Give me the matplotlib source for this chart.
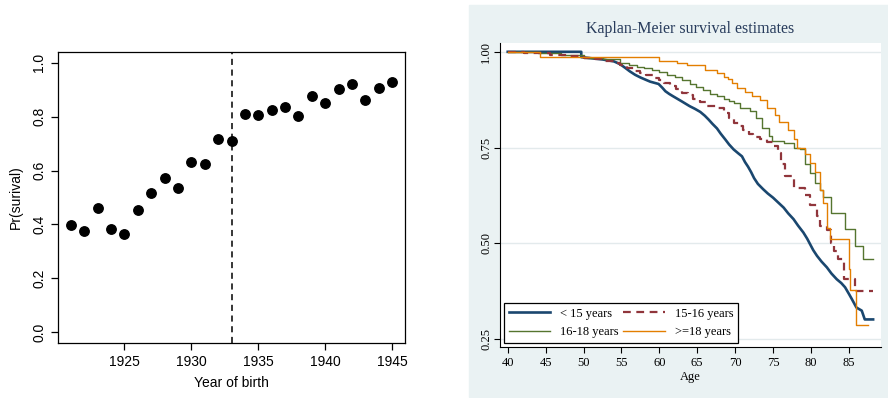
import numpy as np
import matplotlib
matplotlib.use("Agg")
import matplotlib.pyplot as plt
from matplotlib.patches import Rectangle

# datos panel izquierdo
years = [1921, 1922, 1923, 1924, 1925, 1926, 1927, 1928, 1929, 1930, 1931, 1932, 1933,
         1934, 1935, 1936, 1937, 1938, 1939, 1940, 1941, 1942, 1943, 1944, 1945]
pr_surv = [0.398, 0.374, 0.462, 0.383, 0.365, 0.455, 0.515, 0.573, 0.536, 0.633, 0.625,
           0.718, 0.708, 0.810, 0.805, 0.824, 0.835, 0.804, 0.877, 0.850, 0.904, 0.922,
           0.862, 0.908, 0.927]
cutoff = 1933

# curvas Kaplan-Meier (edad, supervivencia)
# < 15 anos: muchos escalones pequenos, se dibuja como linea continua
age_lt15 = [40, 49.7, 49.7, 52.5, 54.0, 54.8, 55.5, 56.1, 56.8, 57.5, 58.2, 58.8, 59.9, 60.4,
            60.8, 61.3, 61.8, 62.4, 63.0, 63.5, 64.0, 64.7, 65.4, 66.0, 66.5, 67.0, 67.6,
            68.1, 68.7, 69.2, 69.8, 70.4, 70.9, 71.3, 71.7, 72.1, 72.5, 73.0, 73.7, 74.3,
            75.0, 75.7, 76.4, 77.0, 77.7, 78.3, 79.0, 79.5, 79.9, 80.3, 80.8, 81.4, 82.1,
            82.7, 83.4, 84.0, 84.5, 85.0, 85.4, 85.7, 86.0, 86.7, 87.1, 88.2]
s_lt15 = [1.0, 1.0, 0.986, 0.980, 0.975, 0.968, 0.958, 0.949, 0.940, 0.933, 0.927, 0.922,
          0.916, 0.906, 0.897, 0.890, 0.884, 0.877, 0.870, 0.864, 0.858, 0.851, 0.843, 0.833,
          0.823, 0.812, 0.800, 0.786, 0.771, 0.758, 0.745, 0.735, 0.727, 0.712, 0.700, 0.686,
          0.670, 0.655, 0.641, 0.630, 0.619, 0.606, 0.593, 0.578, 0.563, 0.546, 0.528, 0.512,
          0.497, 0.482, 0.467, 0.452, 0.437, 0.421, 0.406, 0.396, 0.385, 0.368, 0.354, 0.343,
          0.332, 0.324, 0.301, 0.301]

age_1516 = [40, 42.1, 45.6, 48.0, 50.0, 51.5, 52.6, 54.0, 54.8, 55.7, 56.6, 57.4, 58.3, 59.1,
            59.9, 60.6, 61.4, 62.2, 63.0, 63.8, 64.5, 65.4, 66.3, 67.6, 68.5, 69.2, 69.8,
            70.6, 71.1, 71.8, 72.4, 73.3, 74.2, 75.0, 75.7, 76.1, 76.6, 77.7, 79.2, 79.9,
            80.8, 81.2, 82.1, 82.6, 83.1, 83.6, 84.3, 85.8, 88.2]
s_1516 = [1.0, 0.996, 0.991, 0.988, 0.985, 0.981, 0.976, 0.970, 0.965, 0.957, 0.950, 0.945,
          0.939, 0.932, 0.926, 0.918, 0.910, 0.902, 0.893, 0.886, 0.878, 0.868, 0.858, 0.852,
          0.839, 0.826, 0.813, 0.805, 0.795, 0.786, 0.778, 0.773, 0.765, 0.753, 0.736, 0.706,
          0.675, 0.645, 0.625, 0.600, 0.572, 0.545, 0.535, 0.500, 0.480, 0.458, 0.406, 0.374,
          0.374]

age_1618 = [40, 44.0, 47.0, 50.0, 52.6, 54.8, 56.0, 57.0, 58.0, 59.0, 60.0, 61.0, 62.0, 63.0,
            64.0, 64.9, 65.8, 66.7, 67.6, 68.5, 69.2, 69.8, 70.6, 72.0, 72.8, 73.5, 74.4,
            74.8, 76.4, 77.7, 78.6, 79.2, 79.9, 80.5, 81.2, 81.6, 82.7, 84.5, 85.8, 86.9, 88.2]
s_1618 = [1.0, 0.996, 0.991, 0.985, 0.980, 0.971, 0.965, 0.961, 0.957, 0.952, 0.946, 0.939,
          0.933, 0.926, 0.917, 0.907, 0.899, 0.891, 0.885, 0.878, 0.872, 0.865, 0.853, 0.845,
          0.827, 0.801, 0.779, 0.766, 0.762, 0.749, 0.745, 0.706, 0.684, 0.658, 0.640, 0.620,
          0.580, 0.536, 0.493, 0.458, 0.458]

age_ge18 = [40, 44.3, 60.0, 62.3, 63.6, 66.0, 67.6, 68.5, 69.0, 69.6, 70.2, 71.3, 72.2, 73.3,
            74.2, 75.3, 75.8, 77.0, 77.7, 78.2, 79.2, 79.9, 80.5, 81.2, 81.6, 82.1, 82.5,
            85.0, 85.2, 86.0, 87.5]
s_ge18 = [1.0, 0.986, 0.975, 0.970, 0.965, 0.952, 0.944, 0.935, 0.930, 0.918, 0.905, 0.894,
          0.885, 0.875, 0.853, 0.836, 0.816, 0.797, 0.771, 0.749, 0.732, 0.710, 0.686, 0.640,
          0.605, 0.540, 0.512, 0.432, 0.378, 0.286, 0.286]

fig = plt.figure(figsize=(8.88, 3.98), dpi=100)
W, H = 888., 398.

# ---- panel izquierdo (estilo R)
ax1 = fig.add_axes([58/W, (H-343)/H, (405-58)/W, (343-52)/H])
ax1.plot(years, pr_surv, 'o', color='black', ms=6.8)
ax1.axvline(cutoff, color='black', lw=1.1, ls=(0, (4, 3)))
ax1.set_xlim(1920.04, 1945.96)
ax1.set_ylim(-0.04, 1.04)
ax1.set_xticks([1925, 1930, 1935, 1940, 1945])
ax1.set_yticks([0.0, 0.2, 0.4, 0.6, 0.8, 1.0])
ax1.set_yticklabels(['0.0', '0.2', '0.4', '0.6', '0.8', '1.0'], rotation=90, va='center')
ax1.tick_params(direction='out', length=5, width=0.9, labelsize=10)
for t in ax1.get_xticklabels() + ax1.get_yticklabels():
    t.set_family('Liberation Sans')
ax1.set_xlabel('Year of birth', fontsize=10, family='Liberation Sans', labelpad=5)
ax1.set_ylabel('Pr(surival)', fontsize=10, family='Liberation Sans', labelpad=7)
for s in ax1.spines.values():
    s.set_linewidth(0.9)

# ---- panel derecho (estilo Stata)
fondo = Rectangle((469/W, 1/H), (888-469)/W, (393-1)/H,
                  transform=fig.transFigure, color='#eaf2f3', zorder=-5)
fig.patches.append(fondo)
ax2 = fig.add_axes([500/W, (H-347)/H, (881-500)/W, (347-43)/H])
ax2.set_zorder(2)
ax2.set_facecolor('white')
for yv in [0.25, 0.5, 0.75, 1.0]:
    ax2.axhline(yv, color='#e3eaec', lw=1, zorder=0)

ax2.plot(age_lt15, s_lt15, color='#1a476f', lw=1.9, label='< 15 years')
ax2.step(age_1618, s_1618, where='post', color='#55752f', lw=1.0, label='16-18 years')
ax2.step(age_1516, s_1516, where='post', color='#90353b', lw=1.6, ls=(0, (3.5, 2.5)),
         label='15-16 years')
ax2.step(age_ge18, s_ge18, where='post', color='#e37e00', lw=1.0, label='>=18 years')

ax2.set_xlim(38.98, 89.24)
ax2.set_ylim(0.229, 1.023)
ax2.set_xticks(range(40, 90, 5))
ax2.set_yticks([0.25, 0.5, 0.75, 1.0])
ax2.set_yticklabels(['0.25', '0.50', '0.75', '1.00'], rotation=90, va='center')
ax2.tick_params(direction='out', length=4, width=0.8, labelsize=9)
ax2.tick_params(axis='y', pad=1.5)
for t in ax2.get_xticklabels() + ax2.get_yticklabels():
    t.set_family('Liberation Serif')
ax2.spines['top'].set_visible(False)
ax2.spines['right'].set_visible(False)
ax2.spines['left'].set_linewidth(0.8)
ax2.spines['bottom'].set_linewidth(0.8)
ax2.set_xlabel('Age', fontsize=9, family='Liberation Serif', labelpad=1)
ax2.set_title('Kaplan-Meier survival estimates', fontsize=11.5, family='Liberation Serif',
              color='#283c5c', pad=7)

leg = ax2.legend(ncol=2, loc='lower left', bbox_to_anchor=(0.0105, 0.013, 0.615, 0.148),
                 mode='expand', prop={'family': 'Liberation Serif', 'size': 9},
                 fancybox=False, edgecolor='black', framealpha=1, handlelength=3.3,
                 borderaxespad=0, borderpad=0.4, labelspacing=0.5, columnspacing=1.5)
leg.get_frame().set_linewidth(0.9)

fig.savefig('out.png', dpi=100)
